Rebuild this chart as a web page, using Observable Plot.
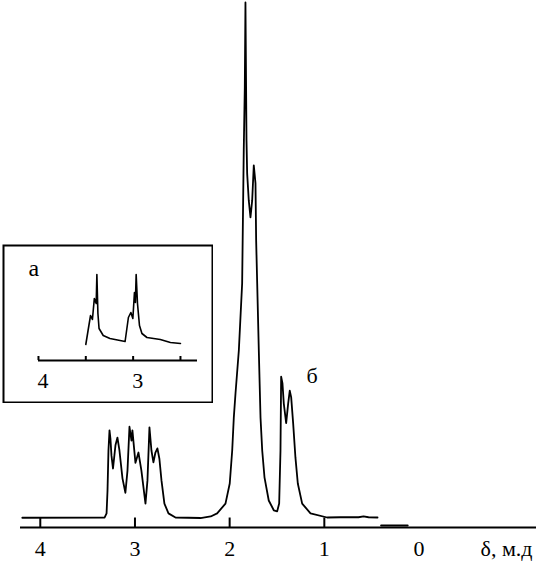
<!DOCTYPE html>
<html>
<head>
<meta charset="utf-8">
<script src="https://cdn.jsdelivr.net/npm/d3@7"></script>
<script src="https://cdn.jsdelivr.net/npm/@observablehq/plot@0.6"></script>
<style>
  html, body { margin: 0; padding: 0; background: white; }
  #wrap { position: relative; width: 536px; height: 573px; }
  #main, #inset { position: absolute; }
  #main { left: 0; top: 0; }
  #inset { left: 2px; top: 244px; }
  svg text { font-family: "Liberation Serif", "DejaVu Serif", serif !important; }
</style>
</head>
<body>
<div id="wrap"><div id="main"></div><div id="inset"></div></div>
<script>
// Main spectrum: chemical shift (ppm) and intensity (arbitrary units, tallest peak = 100)
const mainDelta = [4.19, 3.32, 3.30, 3.29, 3.28, 3.269, 3.259, 3.248, 3.232, 3.206, 3.185, 3.164, 3.132, 3.101, 3.079, 3.058, 3.037, 3.027, 2.995, 2.963, 2.932, 2.889, 2.868, 2.847, 2.826, 2.805, 2.784, 2.763, 2.742, 2.720, 2.689, 2.646, 2.572, 2.308, 2.20, 2.132, 2.044, 1.999, 1.973, 1.956, 1.938, 1.903, 1.868, 1.851, 1.840, 1.833, 1.822, 1.815, 1.798, 1.780, 1.762, 1.745, 1.727, 1.72, 1.709, 1.692, 1.674, 1.656, 1.632, 1.587, 1.534, 1.498, 1.477, 1.463, 1.456, 1.442, 1.428, 1.403, 1.382, 1.365, 1.350, 1.329, 1.305, 1.280, 1.234, 1.146, 0.970, 0.829, 0.639, 0.586, 0.533, 0.438];
const mainIntensity = [0.05, 0.1, 0.9, 5.3, 13.1, 17.0, 15.4, 12.1, 9.6, 14.1, 15.6, 13.1, 7.7, 4.9, 9.2, 17.7, 15.0, 17.0, 10.7, 12.7, 9.2, 2.8, 7.3, 17.6, 13.1, 10.8, 12.7, 13.5, 11.5, 7.3, 2.8, 0.9, 0.1, 0, 0.3, 0.9, 2.8, 6.7, 13.1, 19.5, 24.2, 32.5, 45.5, 71.3, 83.5, 100, 73.3, 66.8, 61.6, 58.3, 61.6, 68.4, 64.9, 53.8, 45.5, 32.5, 19.5, 13.1, 7.9, 3.4, 1.5, 1.3, 2.8, 13.1, 27.4, 26.1, 22.2, 18.4, 22.2, 24.7, 23.4, 18.3, 11.7, 6.7, 2.8, 0.9, 0.1, 0.15, 0.15, 0.3, 0.15, 0.1];
// Short piece of trace lying on the axis near 0.3 ppm
const tailDelta = [0.40, 0.12];
const tailIntensity = [-1.45, -1.45];

// Inset (а): expanded 3.5–2.5 ppm region
const insetDelta = [3.50, 3.476, 3.45, 3.43, 3.41, 3.39, 3.383, 3.372, 3.36, 3.316, 3.245, 3.085, 3.05, 3.024, 3.003, 2.986, 2.976, 2.968, 2.954, 2.933, 2.907, 2.854, 2.713, 2.606, 2.50];
const insetIntensity = [0, 14, 29, 25, 46, 41, 70, 31, 16, 9, 6, 3, 27, 32, 26, 52, 42, 70, 41, 19, 11, 7, 5, 2, 1];

// Axes
const mainTicks = [4, 3, 2, 1];
const mainTickLabels = [4, 3, 2, 1, 0];
const insetTicks = [4, 3.5, 3, 2.5];
const insetTickLabels = [4, 3];
const axisTitle = "δ, м.д";
const peakLabel = "б";
const insetLabel = "а";

const mainData = mainDelta.map((d, i) => ({delta: d, intensity: mainIntensity[i]}));
const tailData = tailDelta.map((d, i) => ({delta: d, intensity: tailIntensity[i]}));
const insetData = insetDelta.map((d, i) => ({delta: d, intensity: insetIntensity[i]}));

const font = "Liberation Serif, DejaVu Serif, serif";
const yAxis = -1.84;

const main = Plot.plot({
  width: 536, height: 573,
  marginLeft: 20, marginRight: 0, marginTop: 2, marginBottom: 46,
  x: {domain: [4.209, -1.241], axis: null},
  y: {domain: [yAxis, 100], axis: null},
  style: {background: "white", color: "black", fontFamily: font},
  marks: [
    Plot.ruleY([yAxis], {stroke: "black", strokeWidth: 2}),
    Plot.ruleX(mainTicks, {x: d => d, y1: yAxis, y2: 0, stroke: "black", strokeWidth: 2}),
    Plot.text(mainTickLabels, {x: d => d, y: yAxis, text: d => String(d), dy: 28, lineAnchor: "bottom", fontSize: 22, fontFamily: font, fill: "black"}),
    Plot.text([axisTitle], {x: -1.199, y: yAxis, text: d => d, dy: 28, lineAnchor: "bottom", textAnchor: "end", fontSize: 22, fontFamily: font, fill: "black"}),
    Plot.line(mainData, {x: "delta", y: "intensity", stroke: "black", strokeWidth: 1.8, strokeLinejoin: "round"}),
    Plot.line(tailData, {x: "delta", y: "intensity", stroke: "black", strokeWidth: 2}),
    Plot.text([peakLabel], {x: 1.13, y: 26.1, text: d => d, lineAnchor: "bottom", fontSize: 22, fontFamily: font, fill: "black"})
  ]
});
document.getElementById("main").appendChild(main);

const inset = Plot.plot({
  width: 211, height: 159,
  marginLeft: 0, marginRight: 0, marginTop: 0, marginBottom: 0,
  x: {domain: [4.380, 2.151], axis: null},
  y: {domain: [-59, 100], axis: null},
  style: {background: "white", color: "black", fontFamily: font},
  marks: [
    Plot.frame({stroke: "black", strokeWidth: 2, inset: 1}),
    Plot.ruleY([-16], {x1: 4.0, x2: 2.32, stroke: "black", strokeWidth: 2}),
    Plot.ruleX(insetTicks, {x: d => d, y1: -16, y2: -12, stroke: "black", strokeWidth: 2}),
    Plot.text(insetTickLabels, {x: d => d, y: -16, text: d => String(d), dx: 4.5, dy: 27, lineAnchor: "bottom", fontSize: 22, fontFamily: font, fill: "black"}),
    Plot.line(insetData, {x: "delta", y: "intensity", stroke: "black", strokeWidth: 1.6, strokeLinejoin: "round"}),
    Plot.text([insetLabel], {frameAnchor: "top-left", text: d => d, dx: 26, dy: 31, lineAnchor: "bottom", textAnchor: "start", fontSize: 24, fontFamily: font, fill: "black"})
  ]
});
document.getElementById("inset").appendChild(inset);
</script>
</body>
</html>
